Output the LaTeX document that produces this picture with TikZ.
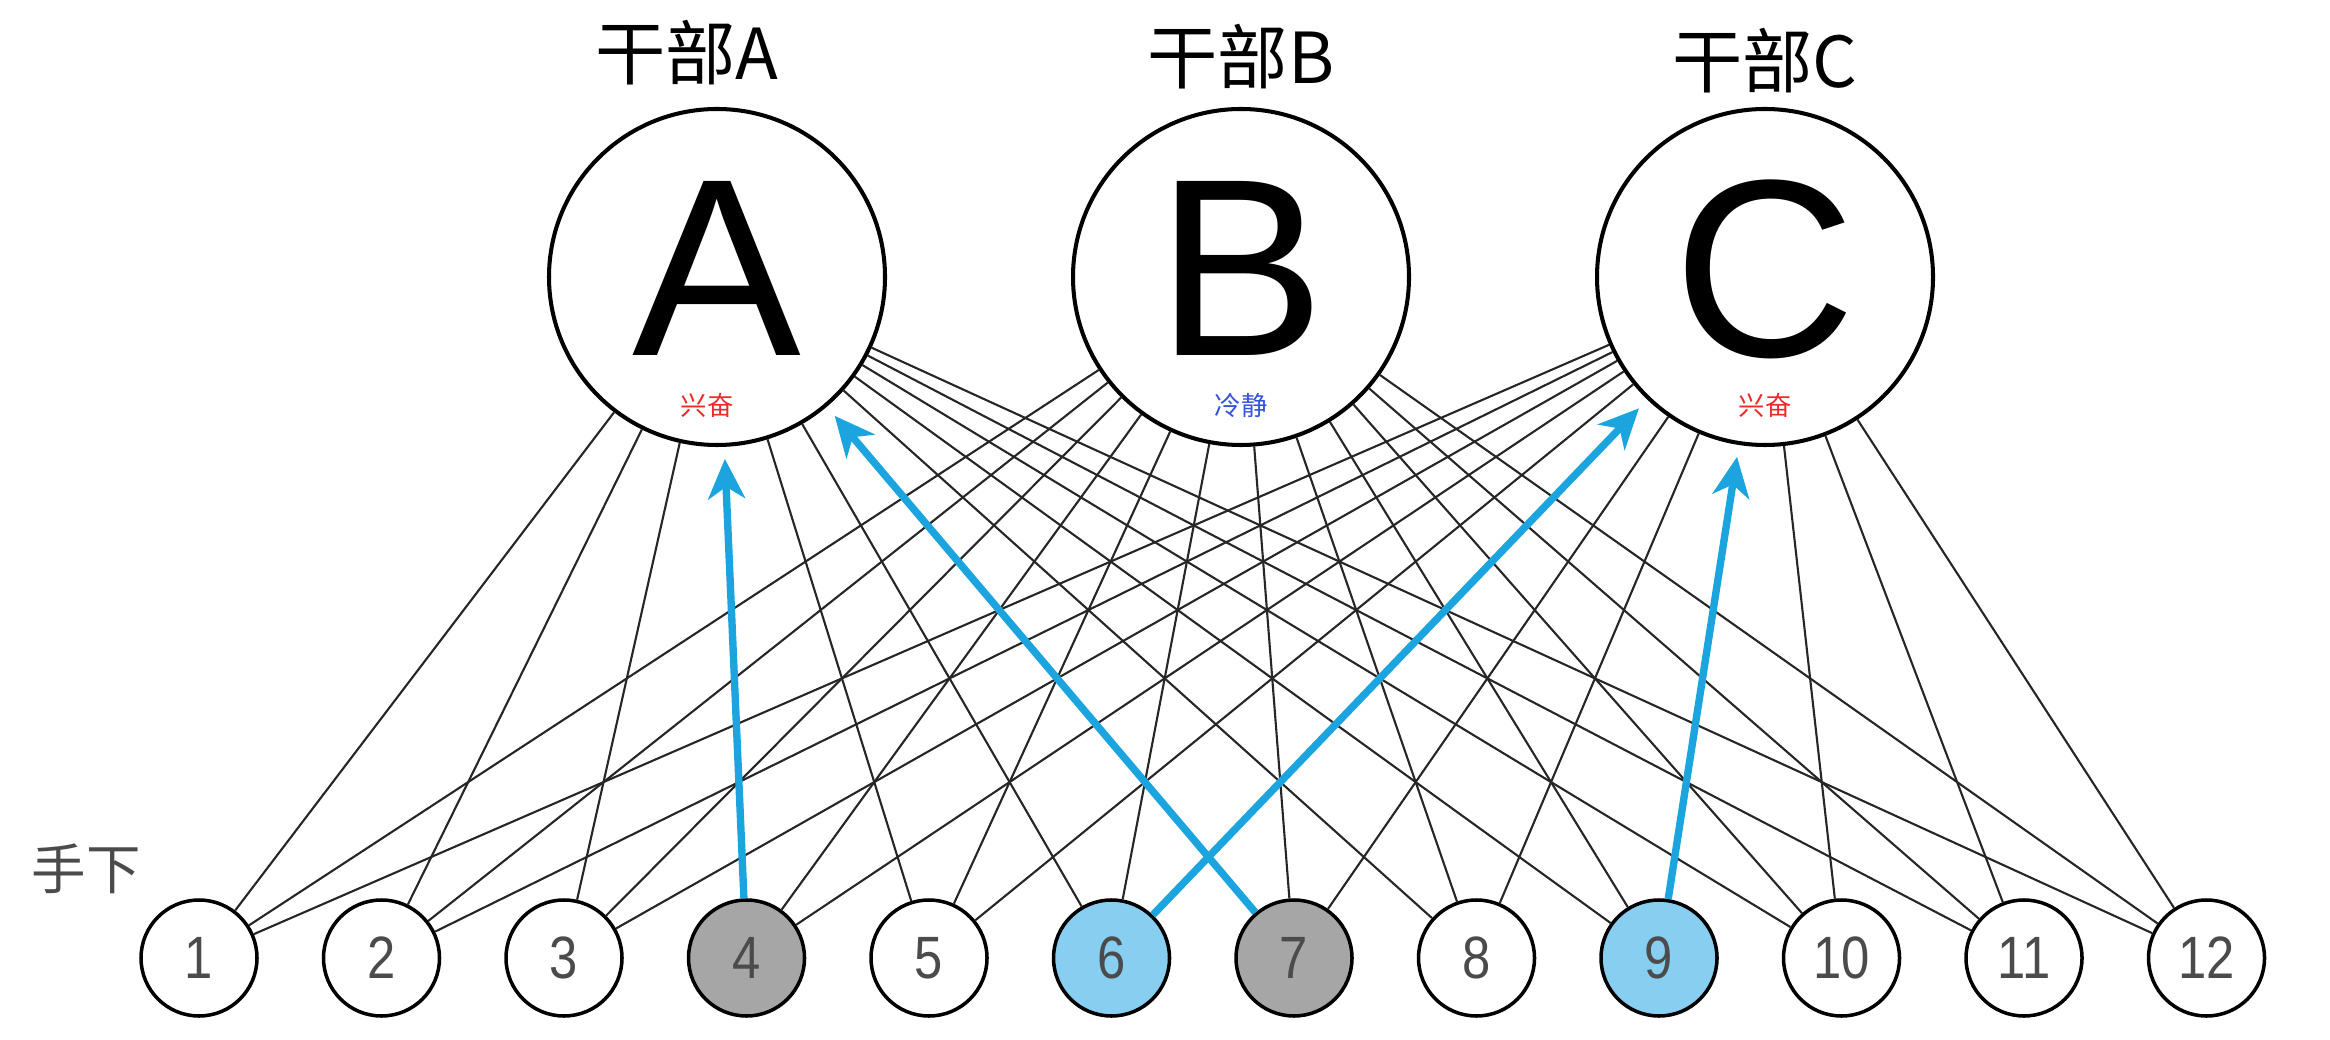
\documentclass[tikz,border=0pt]{standalone}
\usepackage{fontspec}
\newfontfamily\cjk{Noto Sans CJK SC}
\newfontfamily\bossfont{Liberation Sans}
\newfontfamily\numfont[FakeStretch=0.85]{Liberation Sans}
\usetikzlibrary{shapes,arrows.meta}
\definecolor{cheerblue}{RGB}{28,164,222}
\definecolor{workerblue}{RGB}{135,206,240}
\definecolor{workergray}{RGB}{166,166,166}
\definecolor{numgray}{RGB}{75,75,75}
\definecolor{excitered}{RGB}{236,42,42}
\definecolor{calmblue}{RGB}{52,82,220}
\tikzstyle{boss} = [circle, draw, line width=1.15pt, fill=white, minimum size=3.36cm, inner sep=0pt, text depth=1.8mm, font=\bossfont\fontsize{72}{72}\selectfont]
\tikzstyle{title} = [font=\cjk\fontsize{20}{20}\selectfont]
\tikzstyle{mood} = [font=\cjk\fontsize{7.5}{7.5}\selectfont]
\tikzstyle{worker} = [circle, draw, line width=1pt, fill=white, minimum size=1.16cm, inner sep=0pt, text=numgray, font=\numfont\fontsize{17}{17}\selectfont]
\tikzstyle{grayworker} = [worker, fill=workergray]
\tikzstyle{blueworker} = [worker, fill=workerblue]
\tikzstyle{tie} = [line width=0.6pt, black!85]
\tikzstyle{cheer} = [line width=2.1pt, draw=cheerblue, shorten >=1.2mm]

\begin{document}
\begin{tikzpicture}[node distance=1.825cm, >={Stealth[length=4mm, width=3.7mm, inset=1.2mm]}]
   \useasboundingbox (0,0) rectangle (23.3,-10.4);
   % nodes
   \node[boss] (A) at (7.17,-2.77)                                   {A};
   \node[boss] (B) [right of=A, node distance=5.24cm]                {B};
   \node[boss] (C) [right of=B, node distance=5.24cm]                {C};
   \node[title] (tA) [above of=A, node distance=2.24cm, xshift=-3mm] {干部A};
   \node[title] (tB) [above of=B, node distance=2.2cm]               {干部B};
   \node[title] (tC) [above of=C, node distance=2.16cm]              {干部C};
   \node[mood, text=excitered] (mA) [below of=A, node distance=1.28cm, xshift=-1mm] {兴奋};
   \node[mood, text=calmblue] (mB) [below of=B, node distance=1.28cm]  {冷静};
   \node[mood, text=excitered] (mC) [below of=C, node distance=1.28cm] {兴奋};
   \node[text=numgray, font=\cjk\fontsize{15.5}{15.5}\selectfont] (team) at (0.86,-8.69) {手下};
   \node[worker] (s1) at (1.99,-9.58)       {1};
   \node[worker] (s2) [right of=s1]         {2};
   \node[worker] (s3) [right of=s2]         {3};
   \node[grayworker] (s4) [right of=s3]     {4};
   \node[worker] (s5) [right of=s4]         {5};
   \node[blueworker] (s6) [right of=s5]     {6};
   \node[grayworker] (s7) [right of=s6]     {7};
   \node[worker] (s8) [right of=s7]         {8};
   \node[blueworker] (s9) [right of=s8]     {9};
   \node[worker] (s10) [right of=s9]        {10};
   \node[worker] (s11) [right of=s10]       {11};
   \node[worker] (s12) [right of=s11]       {12};

   % edges
   \draw[tie] (s1) to (A);
   \draw[tie] (s1) to (B);
   \draw[tie] (s1) to (C);
   \draw[tie] (s2) to (A);
   \draw[tie] (s2) to (B);
   \draw[tie] (s2) to (C);
   \draw[tie] (s3) to (A);
   \draw[tie] (s3) to (B);
   \draw[tie] (s3) to (C);
   \draw[tie] (s4) to (B);
   \draw[tie] (s4) to (C);
   \draw[tie] (s5) to (A);
   \draw[tie] (s5) to (B);
   \draw[tie] (s5) to (C);
   \draw[tie] (s6) to (A);
   \draw[tie] (s6) to (B);
   \draw[tie] (s7) to (B);
   \draw[tie] (s7) to (C);
   \draw[tie] (s8) to (A);
   \draw[tie] (s8) to (B);
   \draw[tie] (s8) to (C);
   \draw[tie] (s9) to (A);
   \draw[tie] (s9) to (B);
   \draw[tie] (s10) to (A);
   \draw[tie] (s10) to (B);
   \draw[tie] (s10) to (C);
   \draw[tie] (s11) to (A);
   \draw[tie] (s11) to (B);
   \draw[tie] (s11) to (C);
   \draw[tie] (s12) to (A);
   \draw[tie] (s12) to (B);
   \draw[tie] (s12) to (C);
   \draw[cheer, ->] (s4) to (A);
   \draw[cheer, ->] (s7) to (A);
   \draw[cheer, ->] (s6) to (C);
   \draw[cheer, ->] (s9) to (C);
\end{tikzpicture}
\end{document}
